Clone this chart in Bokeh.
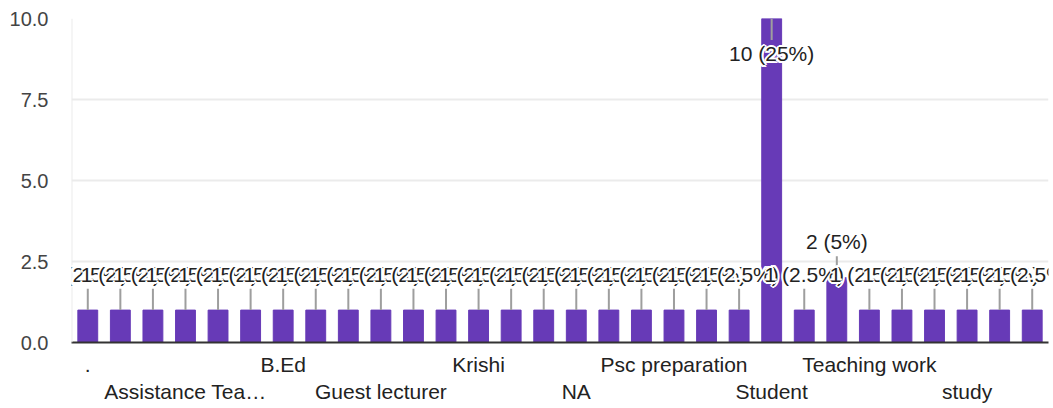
from bokeh.plotting import figure
from bokeh.models import (ColumnDataSource, Range1d, FixedTicker, LinearAxis, Span,
                          NumeralTickFormatter, LabelSet, Label)
from bokeh.embed import file_html
from bokeh.resources import INLINE
from bokeh.core.properties import value

# ---- data ----
values = [1, 1, 1, 1, 1, 1, 1, 1, 1, 1,
          1, 1, 1, 1, 1, 1, 1, 1, 1, 1,
          1, 10, 1, 2, 1, 1, 1, 1, 1, 1]
row1_ticks = [0, 6, 12, 18, 24]
row1_labels = [".", "B.Ed", "Krishi", "Psc preparation", "Teaching work"]
row2_ticks = [3, 9, 15, 21, 27]
row2_labels = ["Assistance Tea\u2026", "Guest lecturer", "NA", "Student", "study"]
y_ticks = [0, 2.5, 5, 7.5, 10]

# ---- derived ----
n = len(values)
total = sum(values)
ymax = 10
xs = list(range(n))
texts = [f"{v} ({v / total * 100:g}%)" for v in values]
inside = [v >= ymax * 0.9 for v in values]
lead = 0.66
lead_end = [v - lead if ins else v + lead for v, ins in zip(values, inside)]

FONT = "Liberation Sans"
BAR = "#673ab7"
TXT = "#222222"

p = figure(width=1053, height=408, x_range=Range1d(-0.5, n - 0.5), y_range=Range1d(0, ymax),
           output_backend="svg", toolbar_location=None,
           min_border_left=71, min_border_top=18, min_border_right=5, min_border_bottom=66)
p.outline_line_color = None
p.background_fill_color = "white"
p.border_fill_color = "white"

p.xgrid.visible = False
p.ygrid.grid_line_color = "#ebebeb"
p.ygrid.grid_line_width = 2
p.ygrid.ticker = FixedTicker(ticks=y_ticks)

p.add_layout(Span(location=-0.5, dimension="height", line_color="#ebebeb", line_width=2))

def clean(ax):
    ax.major_tick_line_color = None
    ax.minor_tick_line_color = None
    ax.major_tick_out = 0
    ax.major_tick_in = 0
    ax.minor_tick_out = 0
    ax.minor_tick_in = 0
    ax.major_label_text_font = FONT

# y axis
p.yaxis.ticker = FixedTicker(ticks=y_ticks)
p.yaxis.formatter = NumeralTickFormatter(format="0.0")
p.yaxis.axis_line_color = None
clean(p.yaxis[0])
p.yaxis.major_label_standoff = 23
p.yaxis.major_label_text_font_size = "20px"
p.yaxis.major_label_text_color = "#444444"

# x axis row 1
ax1 = p.xaxis[0]
ax1.ticker = FixedTicker(ticks=row1_ticks)
ax1.major_label_overrides = {t: l for t, l in zip(row1_ticks, row1_labels)}
ax1.axis_line_color = "#333333"
ax1.axis_line_width = 2
clean(ax1)
ax1.major_label_standoff = 10
ax1.major_label_text_font_size = "21px"
ax1.major_label_text_color = TXT

# x axis row 2
ax2 = LinearAxis(ticker=FixedTicker(ticks=row2_ticks),
                 major_label_overrides={t: l for t, l in zip(row2_ticks, row2_labels)})
ax2.axis_line_color = None
clean(ax2)
ax2.major_label_standoff = 1
ax2.major_label_text_font_size = "21px"
ax2.major_label_text_color = TXT
p.add_layout(ax2, "below")

# bars and leader lines
src = ColumnDataSource(dict(x=xs, top=values, lead_end=lead_end))
p.vbar(x="x", top="top", width=0.61, color=BAR, source=src)
p.segment(x0="x", y0="top", x1="x", y1="lead_end", line_color="#9e9e9e", line_width=2, source=src)

# value labels with a white halo, drawn label after label
halo = [(-2, 0), (2, 0), (0, -2), (0, 2), (-1.5, -1.5), (1.5, -1.5), (-1.5, 1.5), (1.5, 1.5)]

def rows(indices):
    out = []
    for i in indices:
        base = -35 if inside[i] else 36
        for dx, dy in halo + [(0, 0)]:
            out.append((xs[i], values[i], texts[i], dx, base + dy,
                        TXT if (dx, dy) == (0, 0) else "white"))
    return out

def add_single_labels(indices):
    for x, y, t, xo, yo, c in rows(indices):
        p.add_layout(Label(x=x, y=y, text=t, x_offset=xo, y_offset=yo, text_color=c,
                           text_align="center", text_baseline="middle",
                           text_font=FONT, text_font_size="21px"))

# edge labels (may extend past the frame) as single labels
add_single_labels([0])
mid = rows(range(1, n - 1))
lab_src = ColumnDataSource(dict(x=[r[0] for r in mid], y=[r[1] for r in mid],
                                text=[r[2] for r in mid], xo=[r[3] for r in mid],
                                yo=[r[4] for r in mid], color=[r[5] for r in mid]))
p.add_layout(LabelSet(x="x", y="y", text="text", x_offset="xo", y_offset="yo",
                      text_color="color", source=lab_src, text_align="center",
                      text_baseline="middle", text_font=value(FONT),
                      text_font_size=value("21px")))
add_single_labels([n - 1])

open("out.html", "w").write(file_html(p, INLINE))
